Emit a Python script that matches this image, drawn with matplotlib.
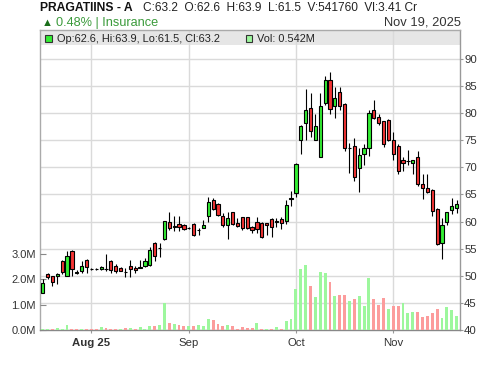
import matplotlib
matplotlib.use('Agg')
import matplotlib.pyplot as plt
from matplotlib.patches import Rectangle
import numpy as np

# ---------------- data ----------------
opens = [46.9, 50.4, 49.9, 49.9, 52.7, 50.0, 54.6, 50.6, 50.8, 53.0,
         51.2, 51.2, 51.2, 51.3, 52.8, 51.9, 51.5, 50.7, 51.9, 51.5,
         51.5, 51.8, 52.0, 56.1, 55.1, 56.7, 60.0, 59.0, 59.6, 59.3,
         58.75, 59.6, 58.4, 58.9, 61.0, 64.0, 63.3, 61.0, 59.4, 61.75,
         59.8, 60.8, 60.8, 59.0, 59.9, 59.8, 59.7, 60.55, 60.0, 60.4,
         60.1, 64.2, 65.2, 75.0, 78.1, 81.0, 75.1, 72.0, 81.9, 86.2,
         81.3, 83.95, 81.75, 73.5, 74.0, 69.8, 72.55, 73.65, 80.5, 79.3,
         78.5, 78.8, 75.1, 74.0, 71.4, 71.1, 70.85, 71.9, 67.0, 66.25,
         65.9, 62.4, 56.1, 60.0, 62.05, 62.6]
highs = [49.5, 50.5, 50.0, 50.6, 52.9, 54.6, 54.7, 51.1, 52.7, 53.1,
         51.5, 51.4, 51.8, 54.0, 52.9, 52.1, 51.6, 51.5, 53.0, 51.8,
         53.0, 53.2, 55.3, 56.2, 56.1, 60.2, 61.8, 61.0, 61.0, 59.5,
         59.0, 59.7, 58.9, 60.35, 64.5, 64.3, 63.5, 61.6, 61.75, 61.8,
         60.7, 60.9, 60.9, 59.1, 60.9, 59.9, 59.8, 60.6, 60.6, 60.9,
         64.0, 65.7, 70.8, 77.8, 84.5, 83.7, 79.9, 83.8, 86.8, 87.6,
         84.9, 84.8, 81.8, 74.5, 75.5, 73.5, 74.3, 80.65, 82.5, 79.8,
         78.6, 78.9, 76.5, 74.3, 71.9, 73.2, 71.4, 73.0, 68.8, 68.8,
         66.0, 62.5, 60.6, 61.8, 64.4, 63.9]
lows = [46.8, 49.4, 48.2, 48.4, 50.3, 49.9, 49.9, 50.4, 50.6, 50.6,
        51.0, 51.1, 51.1, 50.9, 50.5, 50.6, 50.8, 49.8, 49.8, 50.6,
        51.4, 51.7, 51.8, 52.7, 53.5, 56.6, 58.5, 58.3, 58.3, 58.5,
        58.6, 57.3, 57.6, 58.8, 60.0, 62.2, 61.0, 59.0, 56.85, 59.4,
        59.0, 58.4, 58.6, 57.9, 57.9, 57.0, 57.5, 57.2, 59.0, 58.6,
        59.5, 62.9, 64.5, 72.5, 75.1, 75.6, 75.0, 71.9, 81.6, 79.8,
        79.2, 80.6, 73.0, 68.9, 67.5, 65.5, 70.5, 72.1, 78.9, 77.9,
        73.7, 74.9, 71.4, 68.8, 69.4, 70.4, 68.7, 66.6, 64.2, 65.3,
        61.0, 55.7, 53.15, 59.3, 61.45, 61.5]
closes = [48.65, 49.7, 48.8, 50.4, 50.7, 53.6, 51.3, 50.65, 51.9, 51.6,
          51.25, 51.2, 51.7, 51.3, 51.1, 50.9, 50.9, 50.7, 51.2, 51.0,
          51.55, 52.7, 54.8, 53.6, 55.15, 60.1, 58.9, 59.1, 59.05, 58.7,
          58.8, 57.6, 58.4, 59.4, 63.7, 62.4, 61.3, 59.4, 60.6, 59.6,
          59.2, 58.9, 58.85, 58.5, 58.6, 57.2, 59.3, 58.95, 60.1, 59.7,
          63.0, 64.3, 70.7, 77.7, 80.65, 76.8, 77.7, 81.4, 86.2, 80.8,
          82.85, 81.3, 73.5, 73.55, 68.3, 72.3, 73.65, 80.1, 79.2, 78.1,
          74.4, 75.1, 72.5, 69.25, 70.9, 71.15, 71.3, 66.85, 66.25, 65.5,
          61.9, 55.8, 59.4, 61.7, 62.9, 63.2]
volumes_m = [0.03, 0.04, 0.02, 0.08, 0.05, 0.20, 0.02, 0.05, 0.05, 0.05,
             0.04, 0.05, 0.12, 0.08, 0.05, 0.04, 0.03, 0.07, 0.08, 0.05,
             0.10, 0.05, 0.16, 0.16, 0.20, 1.05, 0.27, 0.23, 0.19, 0.17,
             0.16, 0.16, 0.18, 0.16, 0.43, 0.40, 0.22, 0.16, 0.20, 0.16,
             0.04, 0.12, 0.07, 0.09, 0.26, 0.04, 0.04, 0.04, 0.12, 0.03,
             0.36, 0.43, 1.62, 2.41, 2.57, 1.74, 1.30, 2.29, 2.25, 1.90,
             1.34, 1.38, 1.38, 1.15, 1.23, 1.34, 0.95, 2.06, 1.23, 0.99,
             1.26, 0.83, 0.95, 0.95, 1.07, 0.67, 0.71, 0.71, 0.51, 0.55,
             0.67, 0.83, 0.47, 0.91, 0.79, 0.542]

month_tick_idx = [10, 30, 52, 72]
month_labels = ['Aug 25', 'Sep', 'Oct', 'Nov']
price_ticks = [40, 45, 50, 55, 60, 65, 70, 75, 80, 85, 90]
vol_ticks = [0, 1, 2, 3]
vol_tick_labels = ['0.0M', '1.0M', '2.0M', '3.0M']

title_name = 'PRAGATIINS - A'
title_vals = 'C:63.2  O:62.6  H:63.9  L:61.5  V:541760  Vl:3.41 Cr'
change_text = '0.48% | Insurance'
date_text = 'Nov 19, 2025'
legend_ohlc = 'Op:62.6, Hi:63.9, Lo:61.5, Cl:63.2'
legend_vol = 'Vol: 0.542M'

# ---------------- style ----------------
plt.rcParams['font.family'] = ['Liberation Sans', 'DejaVu Sans']
UP = '#33ee33'
DOWN = '#f43434'
VUP = '#9df79d'
VDOWN = '#fc9c9c'
GRID = '#dadada'
TXT = '#333333'

W, H = 500, 366
fig = plt.figure(figsize=(W / 100, H / 100), dpi=100)
fig.patch.set_facecolor('white')

def fx(px):
    return px / W

def fy(py):
    return 1 - py / H

rect = [fx(40), fy(330), fx(460) - fx(40), fy(30) - fy(330)]
ax = fig.add_axes(rect)
x = np.arange(len(closes))
o = np.array(opens)
c = np.array(closes)
h = np.array(highs)
l = np.array(lows)
v = np.array(volumes_m)

ax.set_xlim(-0.55, len(closes) - 0.3)
ax.set_ylim(40, 95.35)

# volume axis (drawn above grid, below candles)
axv = ax.twinx()
axv.set_ylim(0, 11.86)
prev = np.concatenate([[c[0]], c[:-1]])
vcols = [VUP if (ci >= pi) else VDOWN for ci, pi in zip(c, prev)]
axv.bar(x, v, width=0.6, color=vcols, linewidth=0)

# candle axis
axc = ax.twinx()
axc.set_ylim(ax.get_ylim())
axc.set_yticks([])
axc.vlines(x, l, h, color='black', linewidth=0.8, zorder=1)
bcols = [UP if ci > oi else (DOWN if ci < oi else 'black') for oi, ci in zip(o, c)]
axc.bar(x, c - o, bottom=o, width=0.66, color=bcols, edgecolor='black',
        linewidth=0.8, zorder=2)

# grid + band on base axis
ax.set_axisbelow(True)
ax.grid(True, color=GRID, linewidth=1.0)
ax.add_patch(Rectangle((0, 285 / 300), 1, 15 / 300, transform=ax.transAxes,
                       facecolor='#e6e6e6', edgecolor='none', zorder=0.1))

# ticks
ax.set_yticks(price_ticks)
ax.yaxis.tick_right()
ax.tick_params(axis='y', which='both', right=True, left=False, direction='out',
               length=2.2, pad=0.8, colors='#999999', labelcolor=TXT, labelsize=8.2)
ax.set_xticks(month_tick_idx)
ax.set_xticklabels(month_labels)
ax.tick_params(axis='x', direction='out', length=2.5, pad=3, colors='#999999',
               labelcolor=TXT, labelsize=8.2)
ax.get_xticklabels()[0].set_fontweight('bold')

axv.yaxis.tick_left()
axv.set_yticks(vol_ticks)
axv.set_yticklabels(vol_tick_labels)
axv.tick_params(axis='y', direction='in', length=4, pad=3, colors='#888888',
                labelcolor=TXT, labelsize=8)

for a in (axv, axc):
    for s in a.spines.values():
        s.set_visible(False)
ax.spines['left'].set_color('#aaaaaa')
ax.spines['top'].set_color('#aaaaaa')
ax.spines['right'].set_color('#999999')
ax.spines['bottom'].set_color('#888888')
for s in ax.spines.values():
    s.set_linewidth(1.0)

# legend band contents
fig.add_artist(Rectangle((fx(45), fy(42)), fx(6.5), 7 / H, transform=fig.transFigure,
                         facecolor=UP, edgecolor='#333333', linewidth=0.8))
fig.text(fx(57), fy(41.8), legend_ohlc, fontsize=7.9, color='#222222', va='baseline')
fig.add_artist(Rectangle((fx(245.7), fy(42)), fx(6.5), 7 / H, transform=fig.transFigure,
                         facecolor=VUP, edgecolor='#333333', linewidth=0.8))
fig.text(fx(257), fy(41.8), legend_vol, fontsize=7.9, color='#222222', va='baseline')

# header
fig.text(fx(40.5), fy(10.8), title_name, fontsize=8.7, fontweight='bold',
         color='#111111', va='baseline')
fig.text(fx(143), fy(10.8), title_vals, fontsize=8.6, color='#222222', va='baseline')
fig.text(fx(42), fy(25.5), '\u25b2', fontsize=8, color='#1a6e1a', va='baseline')
fig.text(fx(56.5), fy(26), change_text, fontsize=9.2, color='#3a9a3a', va='baseline')
fig.text(fx(460.7), fy(25.5), date_text, fontsize=9.3, color=TXT, va='baseline', ha='right')

fig.savefig('out.png', dpi=100)
